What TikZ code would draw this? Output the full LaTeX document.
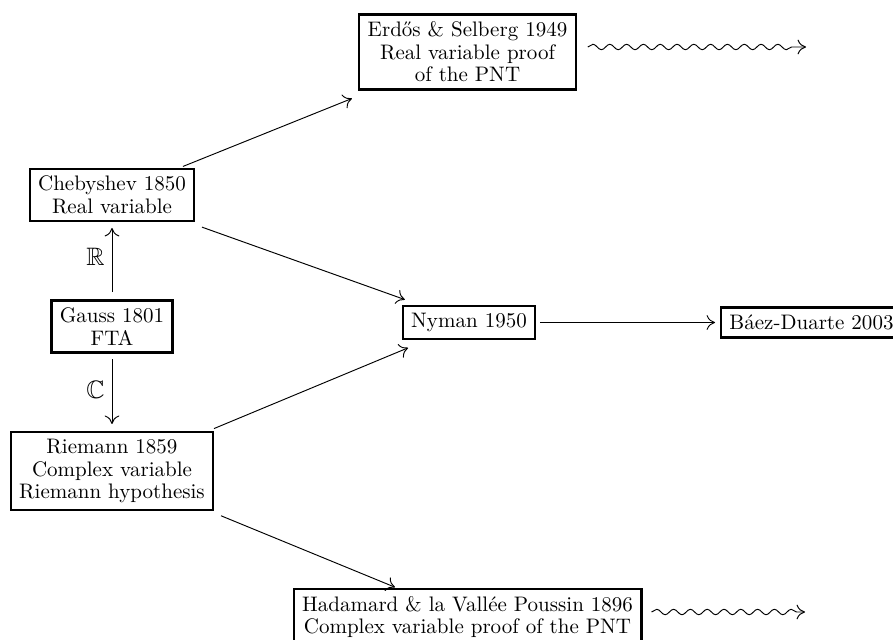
\documentclass[tikz,border=0pt]{standalone}
\usepackage{fontspec}
\usepackage{amssymb}
\usetikzlibrary{arrows.meta,decorations.pathmorphing}

\tikzset{
  entry/.style={draw, line width=1.1pt, align=center, inner xsep=4pt, inner ysep=3.5pt,
    font=\fontsize{10}{10.7}\selectfont},
  link/.style={-{To[length=4pt,width=7pt]}, line width=0.45pt},
  wavy/.style={link, decorate,
    decoration={snake, amplitude=1.3pt, segment length=8pt, post length=3pt}},
  field/.style={left, font=\large},
}

\begin{document}
\begin{tikzpicture}[x=0.476pt, y=-0.476pt]
\useasboundingbox (0,0) rectangle (893,640);

% the boxes
\node[entry] (erdos) at (467.5,52) {Erd\H{o}s \& Selberg 1949\\Real variable proof\\of the PNT};
\node[entry] (cheb) at (112,195) {Chebyshev 1850\\Real variable};
\node[entry] (gauss) at (112,326.5) {Gauss 1801\\FTA};
\node[entry] (riemann) at (112,471) {Riemann 1859\\Complex variable\\Riemann hypothesis};
\node[entry] (nyman) at (469,322.5) {Nyman 1950};
\node[entry] (baez) at (811.5,322.5) {B\'aez-Duarte 2003};
\node[entry] (hadamard) at (467.5,617) {Hadamard \& la Vall\'ee Poussin 1896\\Complex variable proof of the PNT};

\coordinate (erdosin) at (erdos.east |- 0,47);
\coordinate (erdosout) at (806,47);
\coordinate (hadin) at (hadamard.east |- 0,612);
\coordinate (hadout) at (805,612);

% from Gauss
\draw[link, shorten <=16.4pt, shorten >=15.7pt] (gauss.center) -- node[field, pos=0.53] {$\mathbb{R}$} (cheb.center);
\draw[link, shorten <=15.5pt, shorten >=22.4pt] (gauss.center) -- node[field, pos=0.44] {$\mathbb{C}$} (riemann.center);

% real and complex branches
\draw[link, shorten <=36.4pt, shorten >=59.3pt] (cheb.center) -- (erdos.center);
\draw[link, shorten <=45.5pt, shorten >=32.4pt] (cheb.center) -- (nyman.center);
\draw[link, shorten <=52.6pt, shorten >=31.4pt] (riemann.center) -- (nyman.center);
\draw[link, shorten <=56.1pt, shorten >=37.3pt] (riemann.center) -- (hadamard.center);
\draw[link, shorten <=33.8pt, shorten >=45.9pt] (nyman.center) -- (baez.center);

% and onwards
\draw[wavy] ([xshift=5.2pt]erdosin) -- (erdosout);
\draw[wavy] ([xshift=4.3pt]hadin) -- (hadout);
\end{tikzpicture}
\end{document}
